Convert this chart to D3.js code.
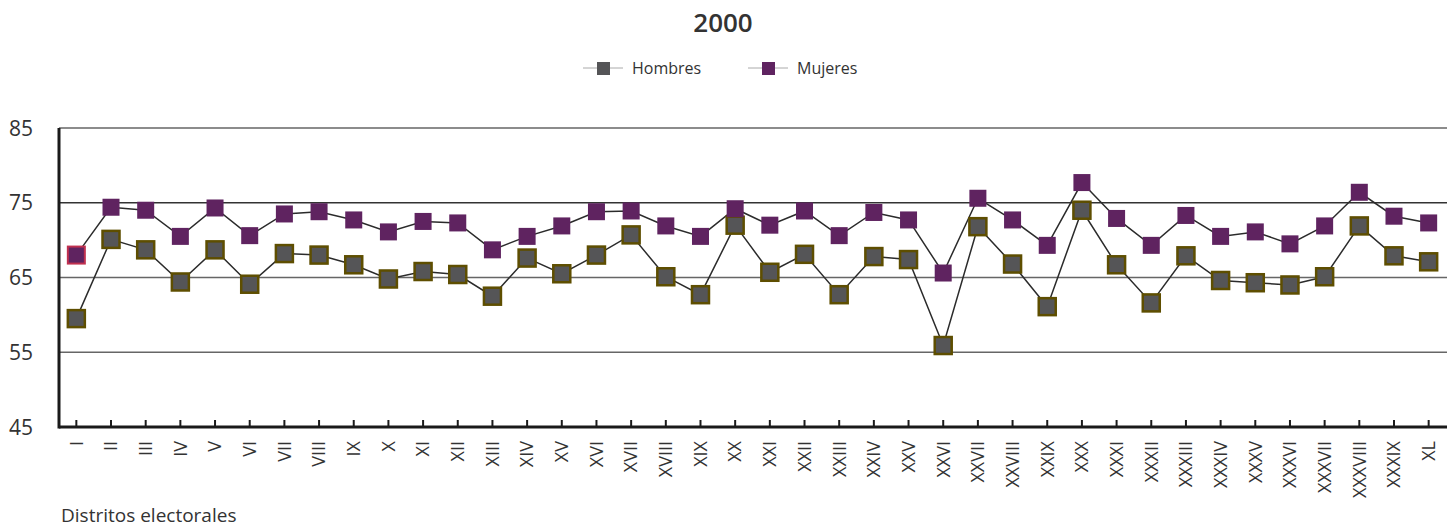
<!DOCTYPE html>
<html lang="es">
<head>
<meta charset="UTF-8">
<title>2000</title>
<script src="https://d3js.org/d3.v7.min.js"></script>
<style>
  body { margin: 0; background: #fff; }
  text { font-family: "Open Sans", "Noto Sans", sans-serif; fill: #333; }
</style>
</head>
<body>
<div id="chart"></div>
<script>
const distritos = ["I","II","III","IV","V","VI","VII","VIII","IX","X",
  "XI","XII","XIII","XIV","XV","XVI","XVII","XVIII","XIX","XX",
  "XXI","XXII","XXIII","XXIV","XXV","XXVI","XXVII","XXVIII","XXIX","XXX",
  "XXXI","XXXII","XXXIII","XXXIV","XXXV","XXXVI","XXXVII","XXXVIII","XXXIX","XL"];

const hombres = [59.5,70.1,68.7,64.4,68.7,64.1,68.2,68.0,66.7,64.8,
  65.8,65.4,62.5,67.6,65.5,68.0,70.7,65.1,62.7,72.0,
  65.7,68.1,62.7,67.8,67.4,55.9,71.8,66.8,61.1,74.0,
  66.7,61.6,67.9,64.6,64.3,64.0,65.1,71.9,67.9,67.1];

const mujeres = [68.0,74.4,74.0,70.5,74.3,70.6,73.5,73.8,72.7,71.1,
  72.5,72.3,68.7,70.5,71.9,73.8,73.9,71.9,70.5,74.2,
  72.0,73.9,70.6,73.7,72.7,65.6,75.6,72.7,69.3,77.7,
  72.9,69.3,73.3,70.5,71.1,69.5,71.9,76.4,73.2,72.3];

const yTicks = [45, 55, 65, 75, 85];

const W = 1451, H = 527;
const margin = {left: 59, right: 5, top: 128, bottom: 100};

const svg = d3.select("#chart").append("svg")
  .attr("width", W).attr("height", H);

const x = d3.scaleBand().domain(distritos)
  .range([margin.left, W - margin.right]);
const y = d3.scaleLinear().domain([45, 85])
  .range([H - margin.bottom, margin.top]);

// gridlines
svg.append("g").selectAll("line")
  .data(yTicks.filter(d => d > 45))
  .join("line")
  .attr("x1", margin.left).attr("x2", W - 4)
  .attr("y1", d => y(d)).attr("y2", d => y(d))
  .attr("stroke", d => d === 85 ? "#8c8c8c" : d === 75 ? "#333" : "#666")
  .attr("stroke-width", d => d === 85 ? 2 : 1.5);

// y labels
svg.append("g").selectAll("text")
  .data(yTicks)
  .join("text")
  .attr("x", 9)
  .attr("y", d => y(d))
  .attr("dy", "0.36em")
  .attr("font-size", 21)
  .text(d => d);

// axes lines
svg.append("line")
  .attr("x1", margin.left).attr("x2", margin.left)
  .attr("y1", y(85)).attr("y2", y(45) + 1.5)
  .attr("stroke", "#1a1a1a").attr("stroke-width", 3);
svg.append("line")
  .attr("x1", margin.left).attr("x2", W - 4)
  .attr("y1", y(45)).attr("y2", y(45))
  .attr("stroke", "#1a1a1a").attr("stroke-width", 3);

const cx = d => x(d) + x.bandwidth() / 2;

// ticks
svg.append("g").selectAll("line")
  .data(distritos)
  .join("line")
  .attr("x1", cx).attr("x2", cx)
  .attr("y1", y(45)).attr("y2", y(45) - 7)
  .attr("stroke", "#1a1a1a").attr("stroke-width", 2);

// x labels
svg.append("g").selectAll("text")
  .data(distritos)
  .join("text")
  .attr("transform", d => `translate(${cx(d)},${y(45) + 14}) rotate(-90)`)
  .attr("text-anchor", "end")
  .attr("dy", "0.35em")
  .attr("font-size", 18)
  .text(d => d);

// lines
const line = d3.line().x((d, i) => cx(distritos[i])).y(d => y(d));
[hombres, mujeres].forEach(s => {
  svg.append("path").datum(s)
    .attr("d", line)
    .attr("fill", "none")
    .attr("stroke", "#2b2b2b")
    .attr("stroke-width", 1.5);
});

const sz = 17;
// hombres markers
svg.append("g").selectAll("rect")
  .data(hombres)
  .join("rect")
  .attr("x", (d, i) => cx(distritos[i]) - sz / 2)
  .attr("y", d => y(d) - sz / 2)
  .attr("width", sz).attr("height", sz)
  .attr("fill", "#555557")
  .attr("stroke", "#5e4e00")
  .attr("stroke-width", 2.5);

// mujeres markers
svg.append("g").selectAll("rect")
  .data(mujeres)
  .join("rect")
  .attr("x", (d, i) => cx(distritos[i]) - sz / 2)
  .attr("y", d => y(d) - sz / 2)
  .attr("width", sz).attr("height", sz)
  .attr("fill", "#5f2360")
  .attr("stroke", (d, i) => i === 0 ? "#c0304f" : "none")
  .attr("stroke-width", 2);

// title
svg.append("text")
  .attr("x", 723).attr("y", 32)
  .attr("text-anchor", "middle")
  .attr("font-size", 26)
  .attr("font-weight", 600)
  .text("2000");

// legend
const legend = [
  {name: "Hombres", color: "#555557", x: 583},
  {name: "Mujeres", color: "#5f2360", x: 748}
];
const lg = svg.append("g").selectAll("g").data(legend).join("g")
  .attr("transform", d => `translate(${d.x},68)`);
lg.append("line").attr("x1", 0).attr("x2", 40)
  .attr("stroke", "#aaa").attr("stroke-width", 1);
lg.append("rect").attr("x", 14).attr("y", -6).attr("width", 13).attr("height", 13)
  .attr("fill", d => d.color);
lg.append("text").attr("x", 49).attr("dy", "0.35em")
  .attr("font-size", 16).text(d => d.name);

// axis title
svg.append("text")
  .attr("x", 61).attr("y", 522)
  .attr("font-size", 19)
  .text("Distritos electorales");
</script>
</body>
</html>
